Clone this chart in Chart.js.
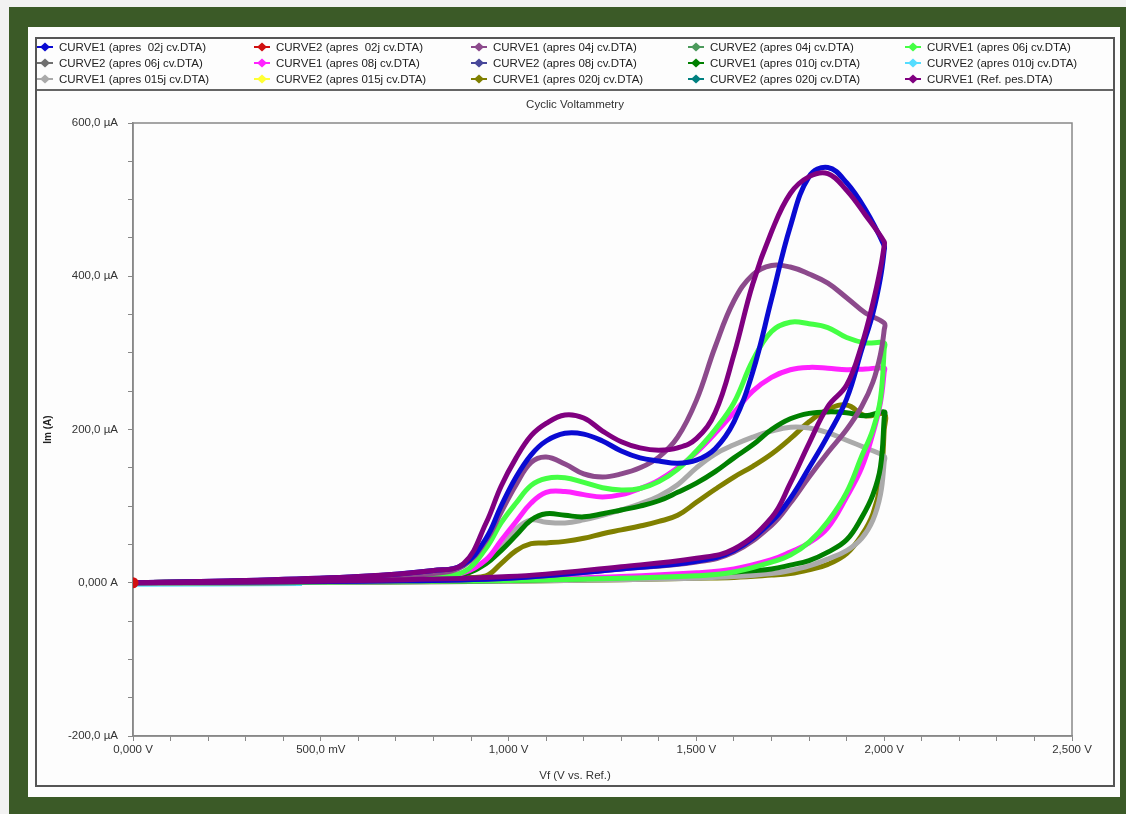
<!DOCTYPE html>
<html>
<head>
<meta charset="utf-8">
<title>Cyclic Voltammetry</title>
<script src="https://cdn.jsdelivr.net/npm/chart.js@4.4.1/dist/chart.umd.min.js"></script>
<style>
  body { margin: 0; background: #f2f2f2; }
  #green { position: absolute; left: 9px; top: 7px; width: 1117px; height: 807px; background: #3b5a27; }
  #panel { position: absolute; left: 28px; top: 27px; width: 1092px; height: 770px; background: #fdfdfd; }
  #frame { position: absolute; left: 35px; top: 37px; width: 1076px; height: 746px; border: 2px solid #555; }
</style>
</head>
<body>
<div id="green"></div>
<div id="panel"></div>
<div id="frame"><canvas id="cvChart"></canvas></div>
<script>
// potential grids (V): forward branch with the peaks, then the return branch
const upperV = [0, 0.3, 0.6, 0.8, 0.88, 0.94, 0.98, 1.02, 1.06, 1.1, 1.15, 1.2, 1.25, 1.3, 1.35, 1.4, 1.45, 1.5, 1.55, 1.6, 1.65, 1.7, 1.75, 1.8, 1.85, 1.9, 1.95, 2.0];
const lowerV = [2.0, 1.99, 1.97, 1.94, 1.9, 1.85, 1.8, 1.75, 1.7, 1.6, 1.5, 1.3, 1.0, 0.6, 0.3, 0];

// currents (µA)
const blue02Up = [0, 3, 8, 16, 24, 58, 100, 138, 167, 185, 195, 194, 185, 172, 163, 159, 156, 160, 175, 210, 275, 370, 465, 530, 542, 522, 487, 440];
const blue02Low = [434, 398, 352, 304, 240, 192, 150, 110, 80, 42, 28, 18, 6, 2, 1, 0];
const mauve04Up = [0, 2, 6, 12, 22, 55, 92, 128, 157, 164, 155, 142, 138, 142, 150, 164, 190, 238, 308, 368, 402, 414, 412, 403, 391, 372, 352, 339];
const mauve04Low = [330, 298, 262, 230, 200, 170, 138, 104, 75, 40, 27, 18, 6, 2, 1, 0];
const lime06Up = [0, 2, 5, 9, 14, 45, 78, 104, 127, 136, 137, 131, 124, 121, 123, 132, 148, 172, 200, 235, 290, 328, 340, 338, 333, 320, 313, 313];
const lime06Low = [305, 240, 200, 165, 118, 80, 53, 36, 27, 14, 9, 6, 3, 1, 0, 0];
const magenta08Up = [0, 2, 5, 9, 13, 30, 55, 80, 104, 118, 119, 115, 112, 115, 123, 134, 150, 170, 195, 222, 250, 268, 278, 281, 280, 278, 279, 280];
const magenta08Low = [275, 235, 195, 150, 112, 72, 52, 40, 30, 18, 13, 8, 4, 1, 0, 0];
const green010Up = [0, 2, 4, 7, 11, 25, 42, 62, 82, 90, 88, 86, 90, 95, 100, 107, 118, 130, 145, 163, 180, 200, 214, 221, 223, 222, 218, 223];
const green010Low = [215, 151, 115, 85, 56, 40, 29, 23, 18, 14, 11, 7, 3, 1, 0, 0];
const grey015Up = [0, 2, 4, 7, 11, 28, 45, 70, 82, 79, 78, 82, 88, 95, 103, 113, 128, 150, 168, 180, 190, 198, 203, 202, 196, 186, 176, 165];
const grey015Low = [158, 115, 82, 58, 42, 31, 22, 16, 12, 8, 6, 4, 2, 1, 0, 0];
const olive020Up = [0, 2, 3, 5, 7, 9, 25, 42, 51, 52, 54, 58, 64, 69, 74, 80, 88, 105, 122, 138, 152, 168, 188, 210, 226, 232, 218, 220];
const olive020Low = [200, 130, 90, 62, 38, 24, 17, 12, 10, 7, 6, 4, 2, 1, 0, 0];
const refUp = [0, 3, 8, 16, 25, 78, 126, 163, 192, 208, 219, 215, 198, 184, 176, 173, 176, 188, 222, 298, 390, 458, 508, 530, 534, 512, 480, 445];
const refLow = [440, 410, 365, 310, 258, 230, 182, 130, 85, 44, 32, 21, 8, 3, 1, 0];

// CURVE2 files: almost nothing recorded, only a trace at the origin
const curve2V = [0, 0.45];
const curve2I = [0, 0];
const cyan010I = [-2, -1];
const red02V = [0];
const red02I = [0];

// axis ticks
const xTickValues = [0, 0.5, 1.0, 1.5, 2.0, 2.5];
const xTickLabels = ['0,000 V', '500,0 mV', '1,000 V', '1,500 V', '2,000 V', '2,500 V'];
const yTickValues = [-200, 0, 200, 400, 600];
const yTickLabels = ['-200,0 µA', '0,000 A', '200,0 µA', '400,0 µA', '600,0 µA'];

const FONT = '"Liberation Sans", Arial, sans-serif';
const TXT = 11.5;
Chart.defaults.font.family = FONT;

const pts = (vs, is) => vs.map((v, k) => ({ x: v, y: is[k] }));
const loop = (up, low) => pts(upperV, up).concat(pts(lowerV, low));
const labelFor = (values, labels, v) => {
    const k = values.findIndex(t => Math.abs(t - v) < 1e-6);
    return k < 0 ? '' : labels[k];
};

function curve(label, color, data, order) {
    return { label, data, borderColor: color, backgroundColor: color, order,
             borderWidth: 5, showLine: true, pointRadius: 0, tension: 0.4, fill: false };
}

const datasets = [
    curve('CURVE1 (apres  02j cv.DTA)', '#0a0ad2', loop(blue02Up, blue02Low), 2),
    Object.assign(curve('CURVE2 (apres  02j cv.DTA)', '#d01010', pts(red02V, red02I), 0), { showLine: false, pointRadius: 3 }),
    curve('CURVE1 (apres 04j cv.DTA)', '#8c4a8c', loop(mauve04Up, mauve04Low), 3),
    curve('CURVE2 (apres 04j cv.DTA)', '#4c9a5c', pts(curve2V, curve2I), 10),
    curve('CURVE1 (apres 06j cv.DTA)', '#44ff44', loop(lime06Up, lime06Low), 4),
    curve('CURVE2 (apres 06j cv.DTA)', '#707070', pts(curve2V, curve2I), 10),
    curve('CURVE1 (apres 08j cv.DTA)', '#ff22ff', loop(magenta08Up, magenta08Low), 5),
    curve('CURVE2 (apres 08j cv.DTA)', '#48489a', pts(curve2V, curve2I), 10),
    curve('CURVE1 (apres 010j cv.DTA)', '#008000', loop(green010Up, green010Low), 6),
    curve('CURVE2 (apres 010j cv.DTA)', '#55ddff', pts(curve2V, cyan010I), 9),
    curve('CURVE1 (apres 015j cv.DTA)', '#aaaaaa', loop(grey015Up, grey015Low), 7),
    curve('CURVE2 (apres 015j cv.DTA)', '#ffff33', pts(curve2V, curve2I), 10),
    curve('CURVE1 (apres 020j cv.DTA)', '#808000', loop(olive020Up, olive020Low), 8),
    curve('CURVE2 (apres 020j cv.DTA)', '#008080', pts(curve2V, curve2I), 10),
    curve('CURVE1 (Ref. pes.DTA)', '#800080', loop(refUp, refLow), 1)
];

// legend in a 5 column grid above the title, like the Gamry export
const gridLegend = {
    id: 'gridLegend',
    afterDraw(chart) {
        const ctx = chart.ctx;
        ctx.save();
        ctx.strokeStyle = '#666';
        ctx.lineWidth = 2;
        ctx.beginPath();
        ctx.moveTo(0, 51);
        ctx.lineTo(chart.width, 51);
        ctx.stroke();
        ctx.font = TXT + 'px ' + FONT;
        ctx.textBaseline = 'middle';
        chart.data.datasets.forEach((ds, i) => {
            const cx = 8 + (i % 5) * 217;
            const cy = 8 + Math.floor(i / 5) * 16;
            ctx.strokeStyle = ds.borderColor;
            ctx.lineWidth = 2;
            ctx.beginPath();
            ctx.moveTo(cx - 8, cy);
            ctx.lineTo(cx + 8, cy);
            ctx.stroke();
            ctx.fillStyle = ds.borderColor;
            ctx.beginPath();
            ctx.moveTo(cx, cy - 4.5);
            ctx.lineTo(cx + 5, cy);
            ctx.lineTo(cx, cy + 4.5);
            ctx.lineTo(cx - 5, cy);
            ctx.closePath();
            ctx.fill();
            ctx.fillStyle = '#222';
            ctx.fillText(ds.label, cx + 14, cy + 0.5);
        });
        ctx.restore();
    }
};

// box round the plot area
const plotBox = {
    id: 'plotBox',
    beforeDatasetsDraw(chart) {
        const { ctx, chartArea: a } = chart;
        ctx.save();
        ctx.strokeStyle = '#888';
        ctx.lineWidth = 1.5;
        ctx.strokeRect(a.left, a.top, a.right - a.left, a.bottom - a.top);
        ctx.restore();
    }
};

new Chart(document.getElementById('cvChart'), {
    type: 'scatter',
    data: { datasets },
    plugins: [gridLegend, plotBox],
    options: {
        responsive: true,
        maintainAspectRatio: false,
        animation: false,
        layout: { padding: { top: 52, left: 4, right: 4, bottom: 2 } },
        plugins: {
            legend: { display: false },
            tooltip: { enabled: false },
            title: {
                display: true,
                text: 'Cyclic Voltammetry',
                color: '#333',
                font: { size: TXT, weight: 'normal', lineHeight: 1.2 },
                padding: { top: 7, bottom: 11.2 }
            },
            subtitle: {
                display: true,
                position: 'bottom',
                text: 'Vf (V vs. Ref.)',
                color: '#333',
                font: { size: TXT, weight: 'normal', lineHeight: 1.2 },
                padding: { top: 0, bottom: 0 }
            }
        },
        scales: {
            x: {
                type: 'linear',
                min: 0,
                max: 2.5,
                ticks: {
                    stepSize: 0.1, autoSkip: false, maxRotation: 0, padding: 2,
                    color: '#333', font: { size: TXT },
                    callback: v => labelFor(xTickValues, xTickLabels, v)
                },
                grid: { drawOnChartArea: false, drawTicks: true, tickLength: 5, color: '#888' },
                border: { display: true, color: '#888', width: 1.5 },
                afterFit: s => { s.height = 33.2; }
            },
            y: {
                type: 'linear',
                min: -200,
                max: 600,
                ticks: {
                    stepSize: 50, autoSkip: false, padding: 10,
                    color: '#333', font: { size: TXT },
                    callback: v => labelFor(yTickValues, yTickLabels, v)
                },
                grid: { drawOnChartArea: false, drawTicks: true, tickLength: 5, color: '#888' },
                border: { display: true, color: '#888', width: 1.5 },
                title: {
                    display: true, text: 'Im (A)', color: '#222',
                    font: { size: 10, weight: 'bold', lineHeight: 1.2 }, padding: { top: 1, bottom: 0 }
                },
                afterFit: s => { s.width = 92; }
            },
            // empty right-hand margin so the title centres on the frame
            yPad: {
                type: 'linear',
                position: 'right',
                min: -200,
                max: 600,
                ticks: { display: false },
                grid: { display: false },
                border: { display: false },
                afterFit: s => { s.width = 37; }
            }
        }
    }
});
</script>
</body>
</html>
